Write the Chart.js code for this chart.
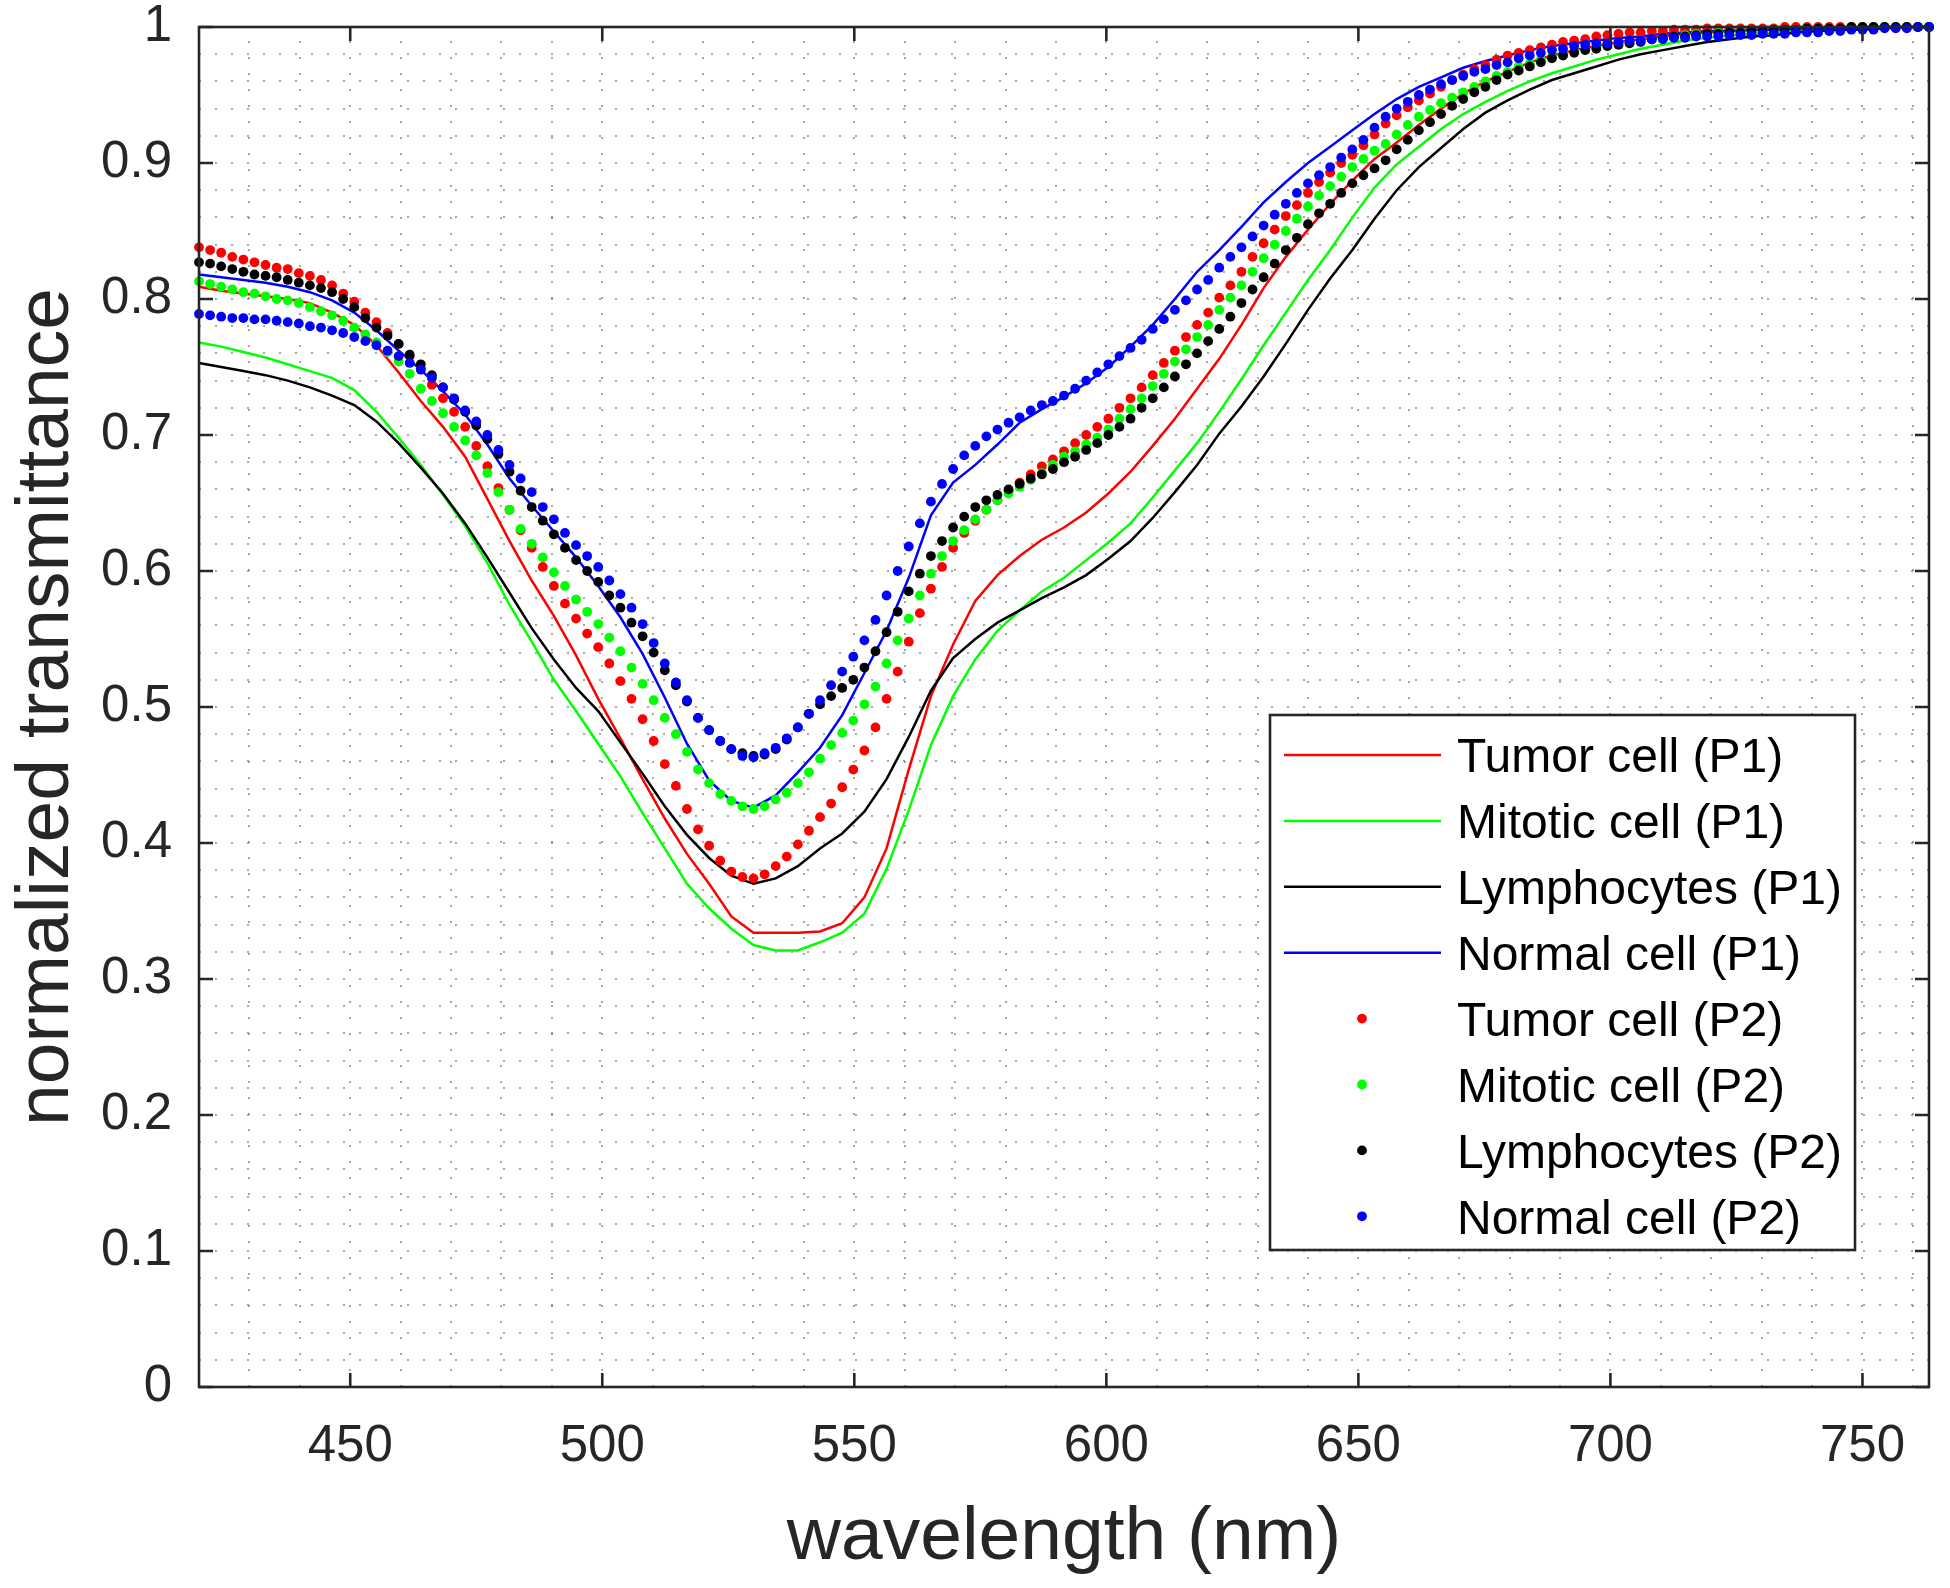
<!DOCTYPE html>
<html>
<head>
<meta charset="utf-8">
<script src="https://cdn.jsdelivr.net/npm/chart.js@4.4.1/dist/chart.umd.min.js"></script>
<style>
html,body{margin:0;padding:0;background:#ffffff;}
canvas{display:block;}
</style>
</head>
<body>
<canvas id="c" width="1950" height="1588"></canvas>
<script>
// ---------- DATA ----------
// wavelengths of the P2 (dotted) measurements, nm
const wl2 = [
 420.0,422.2,424.4,426.6,428.8,431.0,433.2,435.4,437.6,439.8,
 442.0,444.2,446.4,448.6,450.8,453.0,455.2,457.4,459.6,461.8,
 464.0,466.2,468.4,470.6,472.8,475.0,477.2,479.4,481.6,483.8,
 486.0,488.2,490.4,492.6,494.8,497.0,499.2,501.4,503.6,505.8,
 508.0,510.2,512.4,514.6,516.8,519.0,521.2,523.4,525.6,527.8,
 530.0,532.2,534.4,536.6,538.8,541.0,543.2,545.4,547.6,549.8,
 552.0,554.2,556.4,558.6,560.8,563.0,565.2,567.4,569.6,571.8,
 574.0,576.2,578.4,580.6,582.8,585.0,587.2,589.4,591.6,593.8,
 596.0,598.2,600.4,602.6,604.8,607.0,609.2,611.4,613.6,615.8,
 618.0,620.2,622.4,624.6,626.8,629.0,631.2,633.4,635.6,637.8,
 640.0,642.2,644.4,646.6,648.8,651.0,653.2,655.4,657.6,659.8,
 662.0,664.2,666.4,668.6,670.8,673.0,675.2,677.4,679.6,681.8,
 684.0,686.2,688.4,690.6,692.8,695.0,697.2,699.4,701.6,703.8,
 706.0,708.2,710.4,712.6,714.8,717.0,719.2,721.4,723.6,725.8,
 728.0,730.2,732.4,734.6,736.8,739.0,741.2,743.4,745.6,747.8,
 750.0,752.2,754.4,756.6,758.8,761.0,763.2
];
const tumorP2 = [
 0.838,0.836,0.834,0.831,0.829,0.827,0.825,0.823,0.822,0.819,
 0.817,0.814,0.810,0.804,0.798,0.790,0.783,0.775,0.767,0.758,
 0.749,0.737,0.727,0.717,0.706,0.692,0.677,0.661,0.645,0.630,
 0.617,0.603,0.589,0.576,0.565,0.554,0.544,0.532,0.519,0.506,
 0.491,0.475,0.458,0.442,0.425,0.410,0.398,0.387,0.379,0.375,
 0.374,0.377,0.383,0.390,0.399,0.409,0.419,0.429,0.441,0.454,
 0.468,0.485,0.506,0.526,0.548,0.569,0.587,0.603,0.617,0.628,
 0.637,0.645,0.652,0.659,0.665,0.671,0.677,0.682,0.688,0.694,
 0.700,0.706,0.712,0.720,0.727,0.735,0.744,0.753,0.762,0.772,
 0.781,0.790,0.801,0.810,0.820,0.831,0.841,0.851,0.861,0.869,
 0.878,0.886,0.893,0.900,0.906,0.913,0.921,0.929,0.935,0.941,
 0.946,0.951,0.956,0.961,0.965,0.969,0.972,0.976,0.979,0.981,
 0.983,0.985,0.987,0.989,0.990,0.991,0.993,0.994,0.995,0.996,
 0.996,0.997,0.997,0.998,0.998,0.998,0.999,0.999,0.999,0.999,
 0.999,0.999,0.999,1.000,1.000,1.000,1.000,1.000,1.000,1.000,
 1.000,1.000,1.000,1.000,1.000,1.000,1.000
];
const mitoticP2 = [
 0.813,0.811,0.809,0.807,0.805,0.804,0.802,0.800,0.799,0.797,
 0.794,0.791,0.788,0.784,0.779,0.774,0.768,0.761,0.754,0.745,
 0.734,0.725,0.716,0.706,0.696,0.685,0.672,0.658,0.645,0.631,
 0.620,0.610,0.599,0.589,0.579,0.570,0.561,0.551,0.541,0.529,
 0.517,0.505,0.492,0.480,0.467,0.454,0.444,0.436,0.431,0.427,
 0.425,0.427,0.432,0.437,0.444,0.452,0.462,0.472,0.481,0.490,
 0.502,0.515,0.532,0.549,0.565,0.582,0.598,0.611,0.622,0.630,
 0.638,0.645,0.652,0.657,0.662,0.667,0.672,0.678,0.684,0.688,
 0.693,0.698,0.704,0.712,0.719,0.727,0.736,0.745,0.754,0.763,
 0.772,0.781,0.792,0.801,0.810,0.820,0.830,0.840,0.850,0.859,
 0.868,0.876,0.883,0.890,0.897,0.903,0.909,0.914,0.921,0.928,
 0.934,0.939,0.944,0.948,0.952,0.956,0.960,0.964,0.967,0.971,
 0.973,0.976,0.978,0.980,0.982,0.983,0.985,0.986,0.987,0.988,
 0.990,0.991,0.992,0.993,0.994,0.995,0.995,0.996,0.996,0.997,
 0.997,0.997,0.998,0.998,0.998,0.999,0.999,0.999,0.999,1.000,
 1.000,1.000,1.000,1.000,1.000,1.000,1.000
];
const lymphP2 = [
 0.827,0.826,0.824,0.822,0.820,0.818,0.817,0.816,0.814,0.812,
 0.810,0.808,0.805,0.800,0.794,0.786,0.779,0.773,0.767,0.759,
 0.752,0.744,0.735,0.726,0.717,0.707,0.697,0.686,0.673,0.659,
 0.647,0.637,0.627,0.617,0.608,0.600,0.592,0.582,0.573,0.562,
 0.552,0.540,0.527,0.516,0.504,0.492,0.483,0.475,0.469,0.466,
 0.464,0.465,0.469,0.476,0.485,0.495,0.502,0.508,0.514,0.520,
 0.529,0.541,0.555,0.570,0.585,0.598,0.611,0.622,0.632,0.640,
 0.647,0.652,0.656,0.660,0.664,0.668,0.671,0.675,0.680,0.684,
 0.689,0.694,0.700,0.706,0.712,0.720,0.727,0.735,0.743,0.752,
 0.760,0.769,0.778,0.787,0.797,0.807,0.816,0.826,0.836,0.845,
 0.855,0.863,0.870,0.878,0.885,0.891,0.896,0.902,0.910,0.917,
 0.924,0.930,0.936,0.942,0.947,0.952,0.956,0.961,0.965,0.968,
 0.971,0.974,0.977,0.979,0.981,0.983,0.984,0.986,0.987,0.988,
 0.989,0.991,0.992,0.993,0.993,0.994,0.995,0.995,0.996,0.996,
 0.997,0.997,0.998,0.998,0.998,0.999,0.999,0.999,0.999,1.000,
 1.000,1.000,1.000,1.000,1.000,1.000,1.000
];
const normalP2 = [
 0.789,0.788,0.787,0.786,0.786,0.785,0.785,0.784,0.783,0.782,
 0.780,0.779,0.777,0.775,0.772,0.769,0.766,0.762,0.758,0.753,
 0.748,0.742,0.735,0.727,0.718,0.710,0.700,0.689,0.678,0.668,
 0.658,0.647,0.638,0.628,0.619,0.611,0.603,0.593,0.583,0.573,
 0.561,0.547,0.532,0.518,0.505,0.492,0.483,0.475,0.469,0.464,
 0.463,0.466,0.470,0.477,0.485,0.495,0.505,0.516,0.526,0.537,
 0.549,0.564,0.582,0.600,0.618,0.635,0.651,0.664,0.675,0.685,
 0.692,0.699,0.704,0.709,0.713,0.718,0.722,0.725,0.729,0.734,
 0.740,0.746,0.752,0.758,0.764,0.770,0.778,0.785,0.792,0.799,
 0.807,0.814,0.823,0.831,0.838,0.846,0.854,0.862,0.870,0.878,
 0.885,0.891,0.897,0.904,0.910,0.917,0.926,0.934,0.940,0.945,
 0.950,0.954,0.958,0.961,0.964,0.967,0.969,0.972,0.974,0.977,
 0.979,0.981,0.983,0.984,0.986,0.987,0.988,0.988,0.989,0.990,
 0.990,0.991,0.991,0.992,0.992,0.993,0.993,0.993,0.994,0.994,
 0.994,0.995,0.995,0.995,0.996,0.996,0.996,0.997,0.997,0.998,
 0.998,0.998,0.999,0.999,0.999,1.000,1.000
];

// wavelengths of the P1 (solid line) measurements, nm
const wl1 = [
 420.0,424.4,428.8,433.2,437.6,442.0,446.4,450.8,455.2,459.6,
 464.0,468.4,472.8,477.2,481.6,486.0,490.4,494.8,499.2,503.6,
 508.0,512.4,516.8,521.2,525.6,530.0,534.4,538.8,543.2,547.6,
 552.0,556.4,560.8,565.2,569.6,574.0,578.4,582.8,587.2,591.6,
 596.0,600.4,604.8,609.2,613.6,618.0,622.4,626.8,631.2,635.6,
 640.0,644.4,648.8,653.2,657.6,662.0,666.4,670.8,675.2,679.6,
 684.0,688.4,692.8,697.2,701.6,706.0,710.4,714.8,719.2,723.6,
 728.0,732.4,736.8,741.2,745.6,750.0,754.4,758.8,763.2
];
const tumorP1 = [
 0.809,0.806,0.804,0.802,0.800,0.797,0.790,0.781,0.766,0.746,
 0.725,0.706,0.684,0.653,0.622,0.593,0.567,0.538,0.506,0.477,
 0.447,0.418,0.392,0.370,0.346,0.334,0.334,0.334,0.335,0.341,
 0.360,0.396,0.454,0.508,0.546,0.578,0.597,0.611,0.623,0.632,
 0.643,0.657,0.673,0.692,0.712,0.734,0.756,0.781,0.808,0.831,
 0.851,0.870,0.887,0.903,0.915,0.928,0.940,0.951,0.960,0.967,
 0.974,0.979,0.983,0.986,0.989,0.991,0.993,0.995,0.996,0.997,
 0.998,0.998,0.999,0.999,1.000,1.000,1.000,1.000,1.000
];
const mitoticP1 = [
 0.768,0.765,0.761,0.757,0.752,0.747,0.742,0.733,0.717,0.698,
 0.678,0.656,0.633,0.606,0.575,0.548,0.520,0.497,0.473,0.449,
 0.422,0.396,0.370,0.352,0.337,0.325,0.321,0.321,0.327,0.334,
 0.348,0.381,0.424,0.472,0.508,0.535,0.556,0.571,0.585,0.595,
 0.608,0.621,0.635,0.654,0.674,0.694,0.717,0.741,0.766,0.790,
 0.814,0.836,0.860,0.882,0.899,0.912,0.925,0.936,0.945,0.953,
 0.960,0.966,0.971,0.976,0.980,0.984,0.987,0.990,0.992,0.994,
 0.995,0.996,0.997,0.998,0.998,0.999,0.999,1.000,1.000
];
const lymphP1 = [
 0.753,0.750,0.747,0.744,0.740,0.735,0.729,0.722,0.710,0.694,
 0.676,0.657,0.635,0.610,0.584,0.558,0.535,0.514,0.497,0.474,
 0.451,0.427,0.406,0.389,0.376,0.370,0.374,0.383,0.396,0.407,
 0.423,0.447,0.478,0.512,0.536,0.550,0.562,0.571,0.580,0.588,
 0.597,0.609,0.622,0.639,0.658,0.678,0.701,0.721,0.743,0.767,
 0.792,0.815,0.836,0.859,0.880,0.897,0.911,0.925,0.937,0.946,
 0.954,0.961,0.966,0.971,0.976,0.980,0.983,0.986,0.989,0.991,
 0.993,0.994,0.996,0.997,0.998,0.998,0.999,1.000,1.000
];
const normalP1 = [
 0.818,0.816,0.814,0.812,0.809,0.805,0.799,0.790,0.777,0.762,
 0.748,0.732,0.715,0.693,0.668,0.648,0.629,0.610,0.589,0.566,
 0.539,0.507,0.473,0.446,0.431,0.426,0.435,0.452,0.470,0.494,
 0.525,0.556,0.595,0.641,0.665,0.678,0.693,0.709,0.719,0.728,
 0.738,0.750,0.765,0.781,0.800,0.820,0.836,0.853,0.871,0.886,
 0.900,0.912,0.924,0.936,0.947,0.956,0.963,0.970,0.975,0.979,
 0.983,0.986,0.988,0.990,0.992,0.993,0.995,0.996,0.997,0.997,
 0.998,0.998,0.999,0.999,0.999,1.000,1.000,1.000,1.000
];

// tick labels and grid positions
const xMajorTicks = [450, 500, 550, 600, 650, 700, 750];
const yMajorTicks = [0, 0.1, 0.2, 0.3, 0.4, 0.5, 0.6, 0.7, 0.8, 0.9, 1];
const xGridLines = [430,440,450,460,470,480,490,500,510,520,530,540,550,560,570,580,590,600,
                    610,620,630,640,650,660,670,680,690,700,710,720,730,740,750,760];
const yGridLines = [0.02,0.04,0.06,0.08,0.1,0.12,0.14,0.16,0.18,0.2,0.22,0.24,0.26,0.28,0.3,
                    0.32,0.34,0.36,0.38,0.4,0.42,0.44,0.46,0.48,0.5,0.52,0.54,0.56,0.58,0.6,
                    0.62,0.64,0.66,0.68,0.7,0.72,0.74,0.76,0.78,0.8,0.82,0.84,0.86,0.88,0.9,
                    0.92,0.94,0.96,0.98];
const seriesLabels = ['Tumor cell (P1)', 'Mitotic cell (P1)', 'Lymphocytes (P1)', 'Normal cell (P1)',
                      'Tumor cell (P2)', 'Mitotic cell (P2)', 'Lymphocytes (P2)', 'Normal cell (P2)'];
const xTitle = 'wavelength (nm)';
const yTitle = 'normalized transmittance';

// ---------- STYLE ----------
const FONT = '"Liberation Sans", Arial, Helvetica, sans-serif';
const AXC = '#262626';
const COLORS = ['#ff0000', '#00ff00', '#000000', '#0000ff'];

function pts(xs, ys) { return xs.map((x, i) => ({x: x, y: ys[i]})); }

const lineSeries = [tumorP1, mitoticP1, lymphP1, normalP1];
const dotSeries = [tumorP2, mitoticP2, lymphP2, normalP2];

const datasets = [];
lineSeries.forEach((ys, i) => {
  datasets.push({
    label: seriesLabels[i], data: pts(wl1, ys), showLine: true,
    borderColor: COLORS[i], backgroundColor: COLORS[i], borderWidth: 2.5,
    pointRadius: 0, tension: 0, fill: false, clip: false, order: 7 - i
  });
});
dotSeries.forEach((ys, i) => {
  datasets.push({
    label: seriesLabels[4 + i], data: pts(wl2, ys), showLine: false,
    borderColor: COLORS[i], backgroundColor: COLORS[i], pointBackgroundColor: COLORS[i],
    pointBorderWidth: 0, pointRadius: 4.9, pointStyle: 'circle', clip: false, order: 3 - i
  });
});

const gridPlugin = {
  id: 'dotGrid',
  beforeDatasetsDraw(chart) {
    const {ctx, chartArea: a, scales: {x, y}} = chart;
    ctx.save();
    ctx.strokeStyle = 'rgba(0,0,0,0.34)';
    ctx.lineWidth = 2;
    ctx.setLineDash([2, 14]);
    xGridLines.forEach(v => {
      const px = Math.round(x.getPixelForValue(v));
      ctx.beginPath(); ctx.moveTo(px, a.bottom); ctx.lineTo(px, a.top); ctx.stroke();
    });
    yGridLines.forEach(v => {
      const py = Math.round(y.getPixelForValue(v));
      ctx.beginPath(); ctx.moveTo(a.left, py); ctx.lineTo(a.right, py); ctx.stroke();
    });
    ctx.restore();
  }
};

const framePlugin = {
  id: 'frame',
  afterDatasetsDraw(chart) {
    const {ctx, chartArea: a, scales: {x, y}} = chart;
    ctx.save();
    ctx.setLineDash([]);
    ctx.strokeStyle = AXC;
    ctx.lineWidth = 2.6;
    ctx.strokeRect(a.left, a.top, a.right - a.left, a.bottom - a.top);
    const tl = 14;
    ctx.beginPath();
    xMajorTicks.forEach(v => {
      const px = x.getPixelForValue(v);
      ctx.moveTo(px, a.bottom); ctx.lineTo(px, a.bottom - tl);
      ctx.moveTo(px, a.top); ctx.lineTo(px, a.top + tl);
    });
    yMajorTicks.forEach(v => {
      const py = y.getPixelForValue(v);
      ctx.moveTo(a.left, py); ctx.lineTo(a.left + tl, py);
      ctx.moveTo(a.right, py); ctx.lineTo(a.right - tl, py);
    });
    ctx.stroke();
    ctx.restore();
  }
};

const legendPlugin = {
  id: 'boxLegend',
  afterDraw(chart) {
    const ctx = chart.ctx;
    const bx = 1270, by = 715, bw = 585, bh = 535;
    ctx.save();
    ctx.fillStyle = '#ffffff';
    ctx.fillRect(bx, by, bw, bh);
    ctx.strokeStyle = AXC;
    ctx.lineWidth = 2.6;
    ctx.strokeRect(bx, by, bw, bh);
    ctx.font = '48px ' + FONT;
    ctx.textBaseline = 'middle';
    ctx.textAlign = 'left';
    chart.data.datasets.forEach((ds, i) => {
      const yy = by + 40 + i * 65.9;
      if (ds.showLine) {
        ctx.strokeStyle = ds.borderColor;
        ctx.lineWidth = 2.5;
        ctx.beginPath(); ctx.moveTo(1284, yy); ctx.lineTo(1441, yy); ctx.stroke();
      } else {
        ctx.fillStyle = ds.backgroundColor;
        ctx.beginPath(); ctx.arc(1362, yy, 4.9, 0, Math.PI * 2); ctx.fill();
      }
      ctx.fillStyle = '#000000';
      ctx.fillText(ds.label, 1457, yy + 4);
    });
    ctx.restore();
  }
};

new Chart(document.getElementById('c'), {
  type: 'scatter',
  data: {datasets: datasets},
  options: {
    responsive: false,
    animation: false,
    devicePixelRatio: 1,
    events: [],
    layout: {padding: {left: 0, top: 27, right: 21, bottom: 0}},
    plugins: {legend: {display: false}, tooltip: {enabled: false}},
    scales: {
      x: {
        type: 'linear', min: 420, max: 763.2,
        afterBuildTicks: s => { s.ticks = xMajorTicks.map(v => ({value: v})); },
        afterFit: s => { s.height = 201; s.paddingLeft = 0; s.paddingRight = 0; },
        grid: {display: false, drawTicks: false},
        border: {display: false},
        ticks: {autoSkip: false, maxRotation: 0, minRotation: 0, padding: 34, color: AXC,
                font: {family: FONT, size: 51, lineHeight: 1}, callback: v => String(v)},
        title: {display: true, text: xTitle, color: AXC,
                font: {family: FONT, size: 75, lineHeight: 1.2}, padding: {top: 0, bottom: 5}}
      },
      y: {
        type: 'linear', min: 0, max: 1,
        afterBuildTicks: s => { s.ticks = yMajorTicks.map(v => ({value: v})); },
        afterFit: s => { s.width = 199; s.paddingTop = 0; s.paddingBottom = 0; },
        grid: {display: false, drawTicks: false},
        border: {display: false},
        ticks: {autoSkip: false, padding: 27, color: AXC,
                font: {family: FONT, size: 51, lineHeight: 1}, callback: v => String(v)},
        title: {display: true, text: yTitle, color: AXC,
                font: {family: FONT, size: 75, lineHeight: 1.2}, padding: {top: 2, bottom: 0}}
      }
    }
  },
  plugins: [gridPlugin, framePlugin, legendPlugin]
});
</script>
</body>
</html>
